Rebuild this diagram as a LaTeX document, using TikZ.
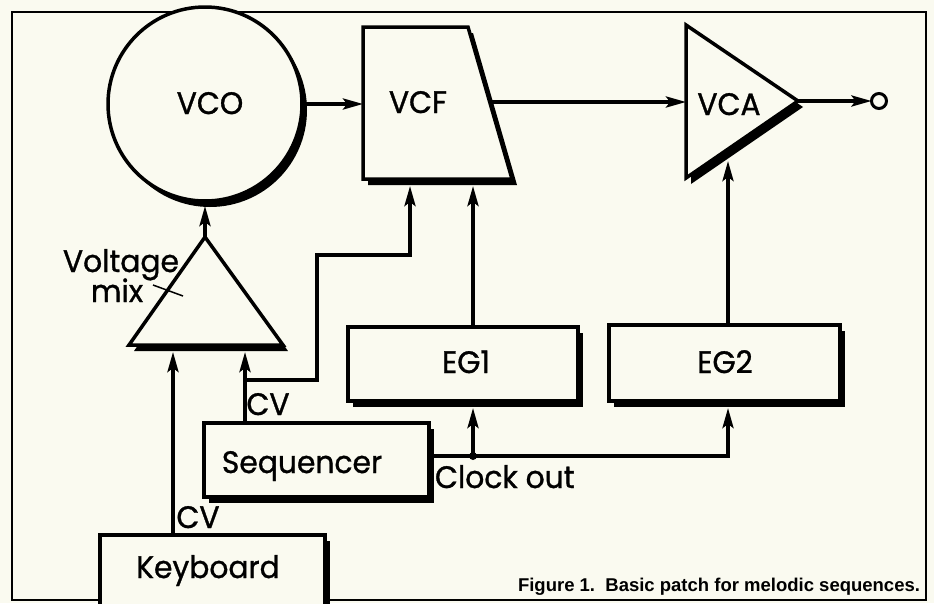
\documentclass[tikz,border=0pt]{standalone}
\usepackage{fontspec}
\usetikzlibrary{arrows.meta,shadows,calc}
\newfontfamily\diagfont[FakeStretch=0.96,FakeBold=1]{Poppins}
\newfontfamily\capfont{Liberation Sans}
\definecolor{paper}{RGB}{250,250,240}
\begin{document}
\begin{tikzpicture}[x=1pt,y=-1pt,
  every node/.style={inner sep=0pt,outer sep=0pt},
  shd/.style={general shadow={fill=black,shadow xshift=5pt,shadow yshift=-6pt}},
  blk/.style={draw=black,fill=paper,line width=3.5pt,line join=miter,shd},
  box/.style={blk,rectangle,minimum width=#1},
  lbl/.style={font=\diagfont\fontsize{31}{36}\selectfont,anchor=base},
  wire/.style={line width=3.5pt},
  arr/.style={wire,-{Stealth[length=20pt,width=11pt,inset=4pt]}},
  frame/.style={line width=2pt}]
\useasboundingbox (0,0) rectangle (934,603);
\fill[paper] (0,0) rectangle (934,603);
\draw[frame] (12,12) rectangle (926,600);

% VCO
\node[blk,circle,minimum size=194pt] (vco) at (205,104) {};
\node[lbl] (vcot) at (210,114) {VCO};

% VCF
\path[blk] (363,27) -- (468,27) -- (512,179) -- (363,179) -- cycle;
\node[lbl] (vcft) at (418,113) {VCF};
\coordinate (vcfin) at (363,102);
\coordinate (vcfout) at (490,102);
\coordinate (vcfL) at (410,186);
\coordinate (vcfR) at (473,186);

% VCA
\path[blk] (686,25) -- (798,101) -- (686,178) -- cycle;
\node[lbl] (vcat) at (729,115) {VCA};
\coordinate (vcain) at (686,102);
\coordinate (vcaout) at (798,101);
\coordinate (vcaB) at (728,161);
\node[circle,draw,line width=3pt,minimum size=15pt,fill=paper] (outc) at (879,101) {};

% Voltage mix
\path[blk] (205,237) -- (283,345) -- (129,345) -- cycle;
\coordinate (mixtop) at (205,237);
\coordinate (mixL) at (173,352);
\coordinate (mixR) at (245,352);
\node[lbl] (volt) at (121,272) {Voltage};
\node[lbl] (mix) at (117,302) {mix};
\draw[line width=1.5pt] (153,285) -- (183,296);

% boxes
\node[box=225pt,minimum height=90pt] (kbd) at (212.5,580) {};
\node[lbl] (kbdt) at (208,578) {Keyboard};
\node[box=225pt,minimum height=74pt] (seq) at (316.5,460) {};
\node[lbl] (seqt) at (302,473) {Sequencer};
\node[box=230pt,minimum height=74pt] (eg1) at (463,364) {};
\node[lbl] (eg1t) at (466,373) {EG1};
\node[box=231pt,minimum height=76pt] (eg2) at (724.5,363) {};
\node[lbl] (eg2t) at (725,373) {EG2};

% labels
\node[lbl] (cv1) at (268,415) {CV};
\node[lbl] (cv2) at (198,528) {CV};
\node[lbl,anchor=base west] (clk) at (435,488) {Clock out};

% connectors
\draw[arr] (vco.east) -- (vco.east -| vcfin);
\draw[arr] (vcfout) -- (vcain);
\draw[arr] (vcaout) -- (outc.west);
\draw[arr] (mixtop) -- ($(vco.south)+(0,5)$);
\draw[arr] (kbd.north -| mixL) -- (mixL);
\draw[arr] (seq.north -| mixR) -- (mixR);
\coordinate (cvj) at (245,380);
\coordinate (bend1) at (317,255);
\draw[arr] (cvj) -| (bend1) -| (vcfL);
\draw[arr] (eg1.north -| vcfR) -- (vcfR);
\draw[arr] (eg2.north -| vcaB) -- (vcaB);
\coordinate (clkj) at (473,456);
\coordinate (eg2in) at (728,408);
\coordinate (eg1in) at (473,408);
\draw[arr] (seq.east |- clkj) -| (eg2in);
\draw[arr] (clkj) -- (eg1in);
\fill (clkj) circle (4pt);

% caption
\node[font=\capfont\bfseries\fontsize{18.5}{22}\selectfont,anchor=base east] (cap) at (920,591) {Figure 1.\ \ Basic patch for melodic sequences.};
\end{tikzpicture}
\end{document}
